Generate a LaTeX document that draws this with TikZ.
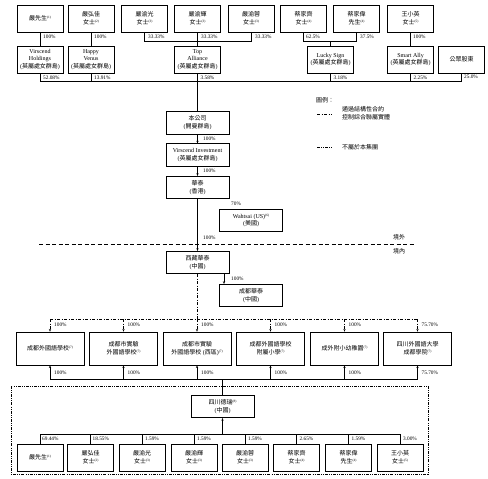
\documentclass[tikz,border=0pt]{standalone}
\usepackage{fontspec}
\setmainfont{Liberation Serif}
\newfontfamily\cjk{Noto Sans CJK TC}
\usetikzlibrary{arrows.meta}
\newcommand\zh[1]{{\cjk #1}}
\newcommand\fn[1]{\raisebox{0.3em}{\fontsize{3.4}{3.6}\selectfont(#1)}}
\begin{document}
\begin{tikzpicture}[x=1pt,y=-1pt,
  box/.style={draw,line width=0.8pt,inner sep=0pt,align=center,font=\fontsize{6}{7.8}\selectfont},
  pers/.style={box,minimum width=46pt,minimum height=27pt},
  cobox/.style={box,minimum width=63pt,minimum height=22.5pt},
  school/.style={box,minimum width=68pt,minimum height=33pt},
  pct/.style={font=\fontsize{5.3}{6}\selectfont,inner sep=0pt,anchor=west},
  ln/.style={line width=0.75pt},
  arr/.style={ln,-{Stealth[length=2.6pt,width=2.2pt]}},
  contract/.style={line width=0.75pt,dash pattern=on 3pt off 1.5pt on 1pt off 1.5pt},
  grp/.style={line width=0.7pt,dash pattern=on 3pt off 1.2pt on 0.8pt off 1.2pt on 0.8pt off 1.2pt},
  lgtext/.style={font=\fontsize{6}{7.8}\selectfont,inner sep=0pt,anchor=west,align=left}]
\useasboundingbox (0,0) rectangle (488,479);

% ---- top shareholders
\node[pers] (t1) at (40,18.5) {\zh{嚴先生}\fn{1}};
\node[pers] (t2) at (91,18.5) {\zh{嚴弘佳}\\\zh{女士}\fn{2}};
\node[pers] (t3) at (144.5,18.5) {\zh{嚴渝光}\\\zh{女士}\fn{3}};
\node[pers] (t4) at (197.5,18.5) {\zh{嚴渝輝}\\\zh{女士}\fn{3}};
\node[pers] (t5) at (251,18.5) {\zh{嚴渝蓉}\\\zh{女士}\fn{3}};
\node[pers] (t6) at (303.5,18.5) {\zh{蔡家齊}\\\zh{女士}\fn{4}};
\node[pers] (t7) at (356.5,18.5) {\zh{蔡家偉}\\\zh{先生}\fn{4}};
\node[pers] (t8) at (410.5,18.5) {\zh{王小英}\\\zh{女士}\fn{5}};

% ---- holding companies
\node[pers] (h1) at (40,59.5) {Virscend\\Holdings\\(\zh{英屬處女群島})};
\node[pers] (h2) at (91,59.5) {Happy\\Venus\\(\zh{英屬處女群島})};
\node[pers] (h3) at (197.5,59.5) {Top\\Alliance\\(\zh{英屬處女群島})};
\node[pers] (h4) at (330.5,59.5) {Lucky Sign\\(\zh{英屬處女群島})};
\node[pers] (h5) at (410.5,59.5) {Smart Ally\\(\zh{英屬處女群島})};
\node[pers] (h6) at (461.5,59.5) {\zh{公眾股東}};

\coordinate (jTA) at (197.5,41);
\coordinate (jLS) at (330.5,41);
\coordinate (jC) at (197.5,81);

\draw[ln] (t1.south) -- (h1.north);
\draw[ln] (t2.south) -- (h2.north);
\draw[ln] (t3.south) |- (jTA);
\draw[ln] (t5.south) |- (jTA);
\draw[ln] (t4.south) -- (h3.north);
\draw[ln] (t6.south) |- (jLS);
\draw[ln] (t7.south) |- (jLS);
\draw[ln] (jLS) -- (h4.north);
\draw[ln] (t8.south) -- (h5.north);
\foreach \h in {h1,h2,h3,h4,h5,h6} \draw[ln] (\h.south) |- (jC);

\node[pct] (p1) at (43,37) {100\%};
\node[pct] (p2) at (94,37) {100\%};
\node[pct] (p3) at (148,37) {33.33\%};
\node[pct] (p4) at (201,37) {33.33\%};
\node[pct] (p5) at (255,37) {33.33\%};
\node[pct] (p6) at (306,37) {62.5\%};
\node[pct] (p7) at (360,37) {37.5\%};
\node[pct] (p8) at (413,37) {100\%};
\node[pct] (q1) at (43,77.5) {52.08\%};
\node[pct] (q2) at (94,77.5) {13.91\%};
\node[pct] (q3) at (200.5,77.5) {3.58\%};
\node[pct] (q4) at (333.5,77.5) {3.18\%};
\node[pct] (q5) at (413.5,77.5) {2.25\%};
\node[pct] (q6) at (464,77) {25.0\%};

% ---- company chain
\node[cobox] (co) at (197.5,123) {\zh{本公司}\\(\zh{開曼群島})};
\node[cobox] (vi) at (197.5,155) {Virscend Investment\\(\zh{英屬處女群島})};
\node[cobox] (hk) at (197.5,187.5) {\zh{華泰}\\(\zh{香港})};
\node[cobox] (ws) at (251,220.5) {Wahtsai (US)\fn{6}\\(\zh{美國})};
\node[cobox] (xz) at (197.5,262.5) {\zh{西藏華泰}\\(\zh{中國})};
\node[cobox] (cd) at (251,295.5) {\zh{成都華泰}\\(\zh{中國})};

\draw[ln] (jC) -- (co.north);
\draw[arr] (co.south) -- (vi.north);
\draw[arr] (vi.south) -- (hk.north);
\draw[ln] (hk.south -| 224,0) -- (hk.south -| 224,0 |- ws.north);
\draw[arr] (hk.south) -- (xz.north);
\draw[arr] (xz.south -| 224,0) -- (cd.north -| 224,0);

\node[pct] (c1) at (203,139) {100\%};
\node[pct] (c2) at (203,171) {100\%};
\node[pct] (c3) at (231,203.5) {70\%};
\node[pct] (c4) at (203,237.5) {100\%};
\node[pct] (c5) at (231,278.5) {100\%};

% ---- offshore / onshore
\coordinate (dL) at (39,244);
\coordinate (dR) at (415,244);
\draw[line width=0.8pt,dash pattern=on 4pt off 2.5pt] (dL) -- (dR);
\node[lgtext] (off) at (393,237) {\zh{境外}};
\node[lgtext] (on) at (393,251.5) {\zh{境內}};

% ---- legend
\node[lgtext] (lgT) at (316,100) {\zh{圖例：}};
\coordinate (lgA1) at (317,114);
\coordinate (lgA2) at (332,114);
\draw[contract] (lgA1) -- (lgA2);
\node[lgtext] (lgA) at (342,113.5) {\zh{通過結構性合約}\\\zh{控制綜合聯屬實體}};
\coordinate (lgB1) at (317,147);
\coordinate (lgB2) at (332,147);
\draw[grp] (lgB1) -- (lgB2);
\node[lgtext] (lgB) at (342,147) {\zh{不屬於本集團}};

% ---- schools
\node[school] (s1) at (50,348.5) {\zh{成都外國語學校}\fn{7}};
\node[school] (s2) at (123.5,348.5) {\zh{成都市實驗}\\\zh{外國語學校}\fn{7}};
\node[school] (s3) at (197,348.5) {\zh{成都市實驗}\\\zh{外國語學校} (\zh{西區})\fn{7}};
\node[school] (s4) at (270.5,348.5) {\zh{成都外國語學校}\\\zh{附屬小學}\fn{7}};
\node[school] (s5) at (344.5,348.5) {\zh{成外附小幼稚園}\fn{7}};
\node[school] (s6) at (417.5,348.5) {\zh{四川外國語大學}\\\zh{成都學院}\fn{7}};

\coordinate (jS) at (197.5,319);
\coordinate (jB) at (222.5,379);
\draw[contract] (xz.south) -- (jS);
\draw[contract] (s1.north |- jS) -- (s6.north |- jS);
\foreach \s in {s1,s2,s3,s4,s5,s6} {
  \draw[contract,-{Stealth[length=2.6pt,width=2.2pt]}] (\s.north |- jS) -- (\s.north);
  \draw[arr] (\s.south |- jB) -- (\s.south);
}
\draw[ln] (s1.south |- jB) -- (s6.south |- jB);

\node[pct] (u1) at (54,325) {100\%};
\node[pct] (u2) at (127.5,325) {100\%};
\node[pct] (u3) at (201,325) {100\%};
\node[pct] (u4) at (274.5,325) {100\%};
\node[pct] (u5) at (348.5,325) {100\%};
\node[pct] (u6) at (421.5,325) {75.70\%};
\node[pct] (v1) at (54,373) {100\%};
\node[pct] (v2) at (127.5,373) {100\%};
\node[pct] (v3) at (201,373) {100\%};
\node[pct] (v4) at (274.5,373) {100\%};
\node[pct] (v5) at (348.5,373) {100\%};
\node[pct] (v6) at (421.5,373) {75.70\%};

% ---- group boundary
\draw[grp] (11,386) rectangle (428,474);

\node[cobox] (dr) at (222.5,406.5) {\zh{四川德瑞}\fn{8}\\(\zh{中國})};
\draw[ln] (dr.north) -- (jB);

\node[pers] (b1) at (40,457.5) {\zh{嚴先生}\fn{1}};
\node[pers] (b2) at (90.5,457.5) {\zh{嚴弘佳}\\\zh{女士}\fn{2}};
\node[pers] (b3) at (142,457.5) {\zh{嚴渝光}\\\zh{女士}\fn{3}};
\node[pers] (b4) at (194,457.5) {\zh{嚴渝輝}\\\zh{女士}\fn{3}};
\node[pers] (b5) at (245,457.5) {\zh{嚴渝蓉}\\\zh{女士}\fn{3}};
\node[pers] (b6) at (296.5,457.5) {\zh{蔡家齊}\\\zh{女士}\fn{4}};
\node[pers] (b7) at (348.5,457.5) {\zh{蔡家偉}\\\zh{先生}\fn{4}};
\node[pers] (b8) at (400,457.5) {\zh{王小英}\\\zh{女士}\fn{5}};

\coordinate (jD) at (222.5,434);
\draw[ln] (b1.north |- jD) -- (b8.north |- jD);
\foreach \b in {b1,b2,b3,b4,b5,b6,b7,b8} \draw[ln] (\b.north |- jD) -- (\b.north);
\draw[arr] (jD) -- (dr.south);

\node[pct] (w1) at (42,439) {69.44\%};
\node[pct] (w2) at (92.5,439) {18.55\%};
\node[pct] (w3) at (145,439) {1.59\%};
\node[pct] (w4) at (197,439) {1.59\%};
\node[pct] (w5) at (248,439) {1.59\%};
\node[pct] (w6) at (299.5,439) {2.65\%};
\node[pct] (w7) at (351.5,439) {1.59\%};
\node[pct] (w8) at (403,439) {3.00\%};
\end{tikzpicture}
\end{document}
